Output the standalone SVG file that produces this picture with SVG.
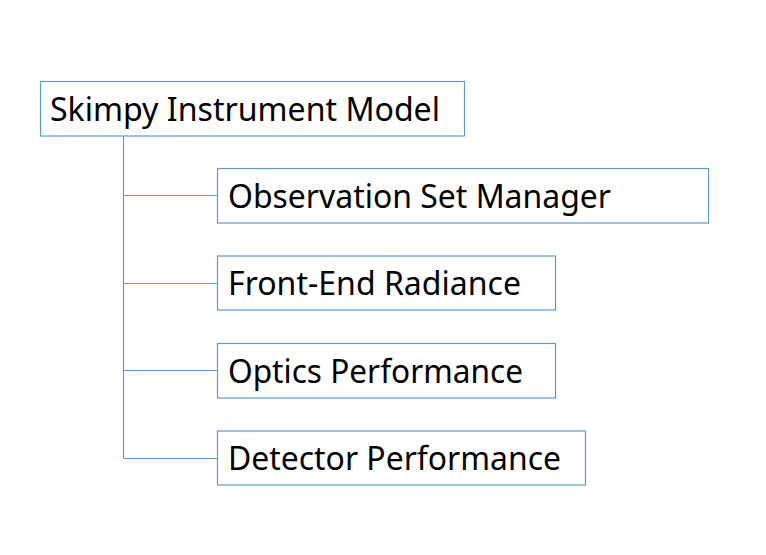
<svg xmlns="http://www.w3.org/2000/svg" width="766" height="555" viewBox="0 0 766 555">
<style>
.box{fill:#fff;stroke:#5B9BD5;stroke-width:1.2}
.lbl{font-family:"Noto Sans","Open Sans",sans-serif;font-size:33.5px;fill:#000}
.con{stroke:#5B9BD5;stroke-width:1.2;fill:none}
</style>
<rect width="766" height="555" fill="#fff"/>
<g id="connectors">
<path class="con" d="M123.5 136V458.5M123.5 195.5H217.5M123.5 283.5H217.5M123.5 370.5H217.5M123.5 458.5H217.5"/>
</g>
<g id="root">
<rect class="box" x="40.5" y="81.5" width="424" height="54.5"/>
<text class="lbl" x="50" y="120.5" textLength="390" lengthAdjust="spacingAndGlyphs">Skimpy Instrument Model</text>
</g>
<g id="osm">
<rect class="box" x="217.5" y="168.5" width="491" height="54.5"/>
<text class="lbl" x="228" y="207.5" textLength="383" lengthAdjust="spacingAndGlyphs">Observation Set Manager</text>
</g>
<g id="fer">
<rect class="box" x="217.5" y="256" width="338" height="54"/>
<text class="lbl" x="228" y="295" textLength="293" lengthAdjust="spacingAndGlyphs">Front-End Radiance</text>
</g>
<g id="opt">
<rect class="box" x="217.5" y="343.5" width="338" height="54.5"/>
<text class="lbl" x="228" y="382.5" textLength="295" lengthAdjust="spacingAndGlyphs">Optics Performance</text>
</g>
<g id="det">
<rect class="box" x="217.5" y="431" width="368" height="54"/>
<text class="lbl" x="228" y="470" textLength="333" lengthAdjust="spacingAndGlyphs">Detector Performance</text>
</g>
</svg>
